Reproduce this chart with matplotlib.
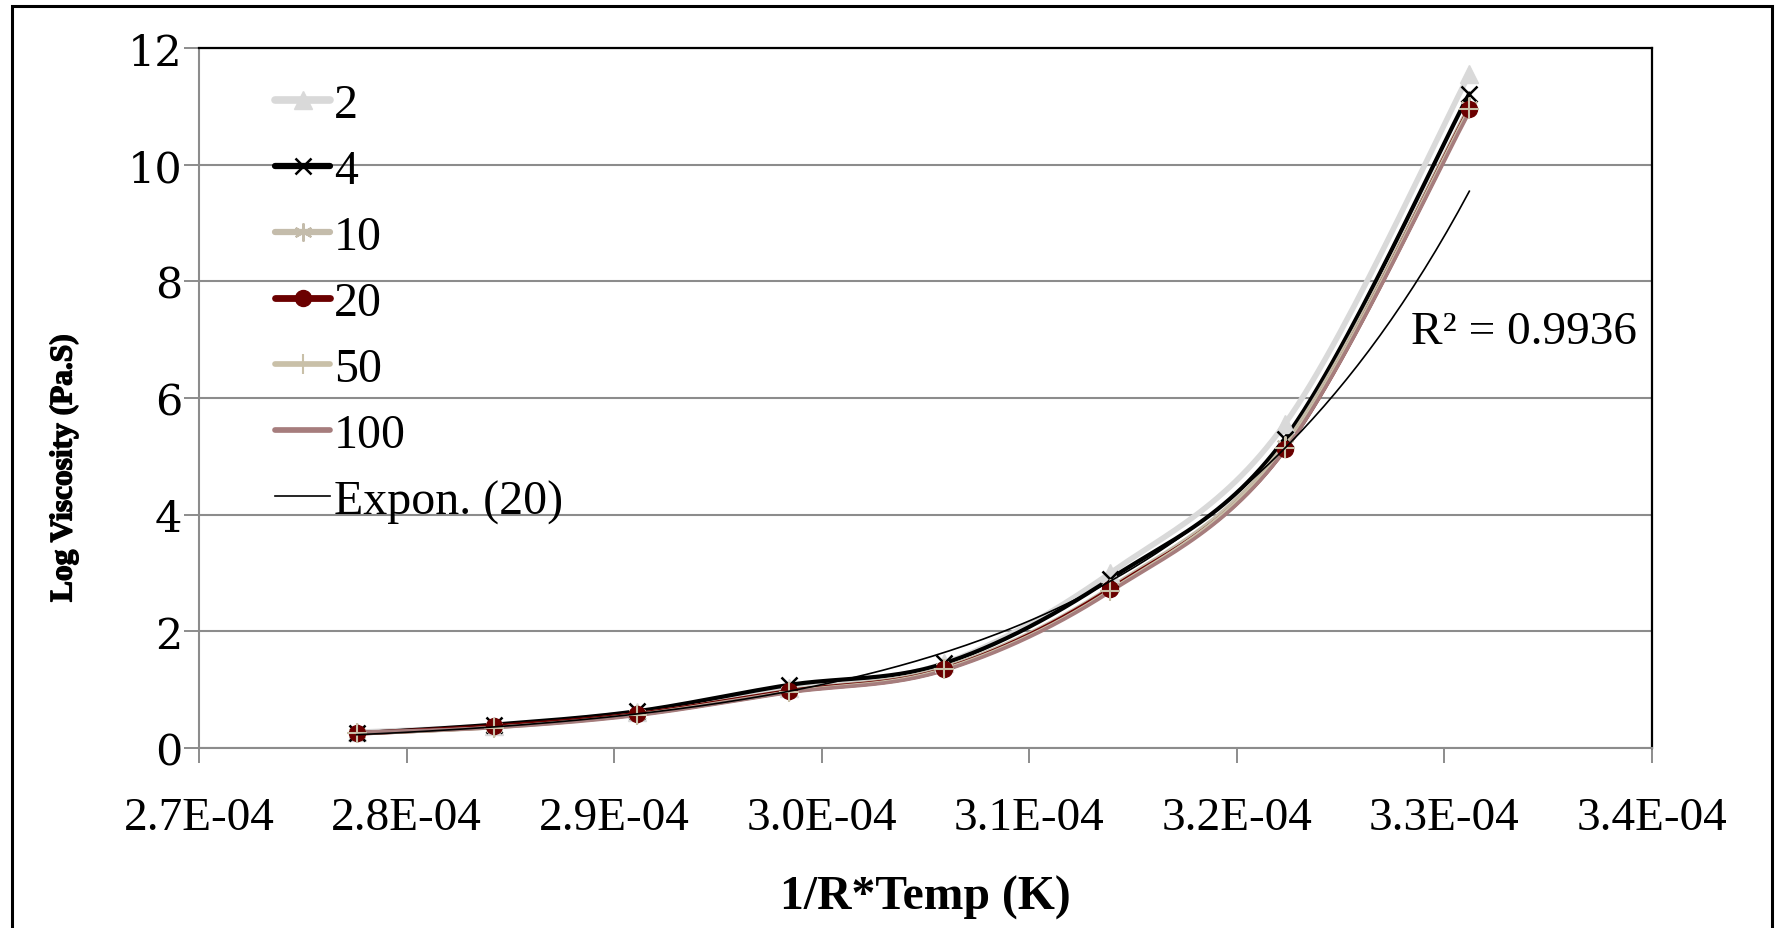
import numpy as np
import matplotlib
matplotlib.use("Agg")
import matplotlib.pyplot as plt
import matplotlib.patheffects as pe
from matplotlib.patches import Rectangle

# === DATA ===
x_inv_rt = [2.776e-4, 2.842e-4, 2.911e-4, 2.984e-4, 3.059e-4, 3.139e-4, 3.223e-4, 3.312e-4]

visc_2 = [0.27, 0.38, 0.61, 1.03, 1.45, 3.00, 5.55, 11.55]
visc_4 = [0.25, 0.40, 0.63, 1.08, 1.45, 2.90, 5.30, 11.22]
visc_10 = [0.25, 0.36, 0.58, 0.98, 1.38, 2.75, 5.20, 11.00]
visc_20 = [0.25, 0.37, 0.58, 0.97, 1.35, 2.72, 5.12, 10.95]
visc_50 = [0.25, 0.35, 0.57, 0.96, 1.35, 2.70, 5.15, 10.95]
visc_100 = [0.27, 0.35, 0.56, 0.95, 1.33, 2.68, 5.10, 10.90]

labels = ["2", "4", "10", "20", "50", "100"]
x_ticks = [2.7e-4, 2.8e-4, 2.9e-4, 3.0e-4, 3.1e-4, 3.2e-4, 3.3e-4, 3.4e-4]
x_tick_labels = ["2.7E-04", "2.8E-04", "2.9E-04", "3.0E-04", "3.1E-04", "3.2E-04", "3.3E-04", "3.4E-04"]
y_ticks = [0, 2, 4, 6, 8, 10, 12]

# === STYLE ===
plt.rcParams['font.family'] = ['Liberation Serif', 'DejaVu Serif']
GRID = "#8c8c8c"


def smooth(xs, ys, n=30):
    # excel-like smoothed line (catmull-rom through the points)
    p = np.column_stack([xs, ys]).astype(float)
    p = np.vstack([p[0], p, p[-1]])
    out = []
    for i in range(1, len(p) - 2):
        p0, p1, p2, p3 = p[i - 1], p[i], p[i + 1], p[i + 2]
        c1 = p1 + (p2 - p0) / 6
        c2 = p2 - (p3 - p1) / 6
        t = np.linspace(0, 1, n)[:, None]
        seg = (1 - t) ** 3 * p1 + 3 * (1 - t) ** 2 * t * c1 + 3 * (1 - t) * t ** 2 * c2 + t ** 3 * p2
        out.append(seg if i == 1 else seg[1:])
    out = np.vstack(out)
    return out[:, 0], out[:, 1]


fig = plt.figure(figsize=(17.75, 9.29), dpi=100)
ax = fig.add_axes([199 / 1775, 1 - 749 / 929, (1652 - 199) / 1775, (749 - 49) / 929])

series = [
    (visc_2, "#d9d9d9", 4.0, "^", 13, 1.0, "#d9d9d9"),
    (visc_4, "#000000", 3.0, "x", 11, 1.8, "#000000"),
    (visc_10, "#c4bcab", 3.0, (6, 2, 0), 13, 1.5, "#c4bcab"),
    (visc_20, "#6b0000", 3.4, "o", 11.5, 1.0, "#6b0000"),
    (visc_50, "#c9c0a8", 2.6, "+", 14, 1.5, "#c9c0a8"),
    (visc_100, "#a67d7d", 2.6, None, 0, 0, "#a67d7d"),
]

handles = []
for (ys, col, lw, mk, ms, mew, mc), lab in zip(series, labels):
    sx, sy = smooth(x_inv_rt, ys)
    ax.plot(sx, sy, color=col, lw=lw, zorder=3, solid_capstyle="round")
    if mk is not None:
        ax.plot(x_inv_rt, ys, ls="none", marker=mk, ms=ms, mew=mew, color=mc, zorder=4)
    h, = ax.plot([], [], color=col, lw=lw + 1.5, marker=mk, ms=ms, mew=mew, mfc=mc, mec=mc,
                 solid_capstyle="round")
    handles.append(h)

# exponential trendline on the 20 series
b, ln_a = np.polyfit(x_inv_rt, np.log(visc_20), 1)
tx = np.linspace(x_inv_rt[0], x_inv_rt[-1], 200)
ax.plot(tx, np.exp(ln_a) * np.exp(b * tx), color="black", lw=1.2, zorder=6)
h, = ax.plot([], [], color="black", lw=1.2)
handles.append(h)
ax.text(3.284e-4, 7.13, "R² = 0.9936", fontsize=34, ha="left", va="center", zorder=7)

# === AXES ===
ax.set_xlim(2.7e-4, 3.4e-4)
ax.set_ylim(0, 12)
ax.set_xticks(x_ticks)
ax.set_xticklabels(x_tick_labels)
ax.set_yticks(y_ticks)
ax.tick_params(axis="x", direction="out", length=11, width=1.4, color=GRID, labelsize=34, pad=24)
ax.tick_params(axis="y", direction="out", length=11, width=1.4, color=GRID, labelsize=31, pad=1)
for lbl in ax.get_yticklabels():
    lbl.set_fontfamily("DejaVu Serif")
ax.grid(axis="y", color=GRID, lw=1.5, zorder=0)
ax.set_axisbelow(True)
for s in ["left", "bottom"]:
    ax.spines[s].set_color(GRID)
    ax.spines[s].set_linewidth(1.5)
for s in ["top", "right"]:
    ax.spines[s].set_color("black")
    ax.spines[s].set_linewidth(1.6)

ax.set_xlabel("1/R*Temp (K)", fontsize=34.3, fontweight="bold", labelpad=26)
ax.set_ylabel("Log Viscosity (Pa.S)", fontsize=22.6, fontweight="bold",
              path_effects=[pe.withStroke(linewidth=1.0, foreground="black")])
ax.yaxis.set_label_coords(-0.083, 0.40)

ax.legend(handles, labels + ["Expon. (20)"], loc="upper left", bbox_to_anchor=(0.0523, 0.950),
          frameon=False, fontsize=34.5, handlelength=1.15, handletextpad=0.08,
          labelspacing=0.46, borderaxespad=0, borderpad=0)

# outer chart border
fig.add_artist(Rectangle((12 / 1775, -0.05), (1772 - 12) / 1775, 1 - 7 / 929 + 0.05,
                         transform=fig.transFigure, fill=False, ec="black", lw=2.2))

plt.savefig("out.png", dpi=100)
plt.close()
